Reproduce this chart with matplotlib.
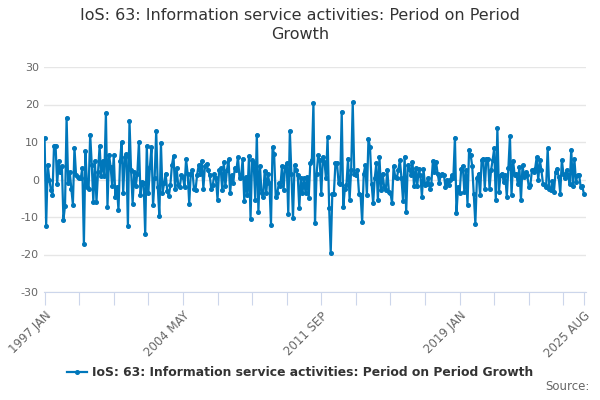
import matplotlib
matplotlib.use("Agg")
import matplotlib.pyplot as plt
import pandas as pd

plt.rcParams["axes.unicode_minus"] = False

# monthly period-on-period growth, 1997 JAN .. 2025 AUG
growth = [
    11, -12.3, 4, 0, -2.7, -4, 9, 9, -1.3, 5,
    2, 3.5, -10.7, -7, 16.5, -1, 2, -2.4, -6.7, 8.5,
    1.3, 0.8, 0.5, 0.3, 3, -17.3, 7.5, -2, -2.4, 12,
    4, -6, 5, -6, 2, 9, 1, 5, 1, 17.7,
    -7.3, 6.5, 3.4, -1.8, 6.5, -4.6, -2, -8.2, 5, 10,
    -3.7, 6, 6.7, -12.5, 15.7, 2.5, -6.4, 1.9, -1.8, 1.6,
    10, -4.2, -0.6, -1, -14.6, 9, -3.7, 3.4, 8.7, -6.9,
    0.3, 13, -2, -9.8, 9.8, -3.7, -1, 1.6, -3, -4.5,
    -1.5, 3.8, 6.3, -2.4, 3, -1.5, -2, 1.2, 0.7, -2,
    5.4, 1.6, -6.4, 1.6, 2.5, -2.4, -2.8, 1.2, 3.8, 1.6,
    5, -2.4, 3.6, 4.2, 2.5, 1.2, -2.4, -1.5, 1.6, 0.3,
    -5.4, 2.5, 3, -2.8, 4.7, -1.8, 2.5, 5.4, -3.6, 1.2,
    -1, 3.2, 2.5, 6, 0.3, 0.7, 5.6, -5.7, 0.7, -4.2,
    6.3, -10.4, 5.2, 4.3, -5.5, 12, -8.7, 3.6, -3.7, -4.6,
    2.3, -3.7, 1.6, -1, -12, 8.7, 6.8, -4.6, -3.7, -1,
    -1.8, 3.6, -2.8, 3.4, 4.3, -9.3, 13, 1.6, -10.3, 3.8,
    2.5, 1.2, -7.6, 0.3, -3.7, 0.3, -3.7, 0.7, -4.8, 4.3,
    5.2, 20.4, -11.5, 1.4, 6.5, 5.2, -3.9, 6.1, 4.7, 0.3,
    11.3, -7.5, -19.6, -3.9, -3.75, 4.3, 4.3, -0.9, -1.1, 18.1,
    -7.3, -2.4, -1.5, 5.6, -5.4, 2.5, 20.6, 1.6, 1.2, 2.5,
    -3.75, -4.2, -11.3, 1.6, 3.8, -4.2, 10.8, 8.6, -1.1, -6.3,
    0.3, 4.3, -5.5, 5.9, -2.9, 1.6, -2, -2.9, 2.5, -3.3,
    -3.6, -6.3, 3.6, 0.7, 0.3, 2.5, 5.2, 0.3, -5.7, 6.1,
    -8.7, 3.8, 2.9, 1.2, 4.7, -1.8, 3, -1.8, 2.7, 1.2,
    -4.6, 2.7, -1.5, -1.1, 0.3, -2.4, -1.1, 5, 2, 4.7,
    1.6, -0.9, 1.2, 1.6, 1.2, -2.1, 0, -1.5, -0.2, 1.2,
    0.5, 11.2, -8.9, -2, -3.6, 2.9, 3.6, -3.3, 2.5, -6.7,
    7.9, 6.5, 3.6, -3.9, -11.8, 0.3, 1.6, -4.2, 5.2, 5.6,
    -2.4, 5.4, 5.6, -2.4, 2.5, 5.2, 8.3, -5.5, 13.7, -3.3,
    1.2, 1.6, -0.6, 1.2, -4.6, 3, 11.6, -4.2, 5, 1.2,
    1.6, -1.1, 3.4, -5.5, 3.8, 0.7, 2, 1.2, -2, -1.5,
    2.5, 2, 2.9, 5.9, -0.2, 5.2, 2.5, -1.1, -1.5, -2,
    8.3, -2.4, -2.9, -0.4, -3.3, 2, 2.9, 0.7, -3.75, 5.2,
    1.6, 0.3, 2.5, 1.2, -1.1, 8, -1.8, 5.4, -0.6, 1.2,
    1.2, -2, -1.8, -3.75,
]
months = pd.date_range("1997-01-01", periods=len(growth), freq="MS")
month_labels = [d.strftime("%Y %b").upper() for d in months]

title = "IoS: 63: Information service activities: Period on Period Growth"
line_color = "#0077bb"

fig = plt.figure(figsize=(6, 4), dpi=100)
ax = fig.add_axes([0.073, 0.27, 0.904, 0.5625])

x = list(range(len(growth)))
ax.plot(x, growth, color=line_color, lw=1.6, marker="o", ms=2.6, label=title)

ax.set_ylim(-30, 30)
ax.set_yticks(range(-30, 31, 10))
ax.set_xlim(-0.5, len(growth) + 0.5)

ticks = list(range(0, len(growth) - 1, 22)) + [len(growth) - 1]
ax.set_xticks(ticks)
ax.set_xticklabels([month_labels[t] if (t % 88 == 0 or t == ticks[-1]) else "" for t in ticks],
                   rotation=45, ha="right", rotation_mode="anchor")

ax.grid(axis="y", color="#e6e6e6", lw=1)
ax.set_axisbelow(True)
for s in ["top", "right", "left"]:
    ax.spines[s].set_visible(False)
ax.spines["bottom"].set_color("#ccd6eb")
ax.tick_params(axis="x", colors="#ccd6eb", length=9, labelcolor="#666666", labelsize=8.5)
ax.tick_params(axis="y", length=0, labelcolor="#666666", labelsize=8)

fig.text(0.5, 0.98, "IoS: 63: Information service activities: Period on Period\nGrowth",
         ha="center", va="top", fontsize=11.5, color="#333333", linespacing=1.3)

leg = fig.legend(loc="center", bbox_to_anchor=(0.5, 0.068), frameon=False,
                 fontsize=8.9, handlelength=1.6, handletextpad=0.4)
for t in leg.get_texts():
    t.set_fontweight("bold")
    t.set_color("#333333")

fig.text(0.982, 0.018, "Source:", ha="right", va="bottom", fontsize=8.5, color="#666666")

fig.savefig("out.png")
